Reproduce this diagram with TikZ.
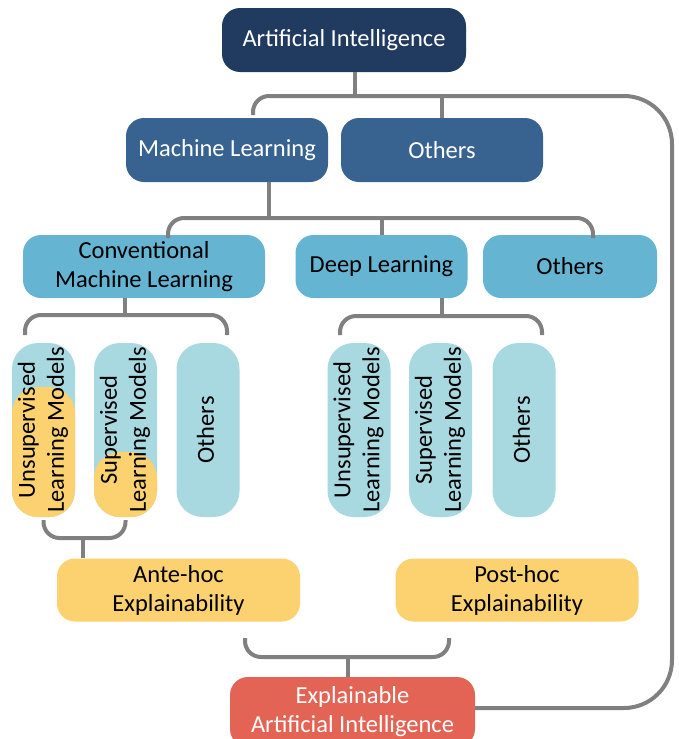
\documentclass[tikz,border=0pt]{standalone}
\usepackage{fontspec}
\setmainfont{Carlito}

\definecolor{aiblue}{RGB}{32,58,96}
\definecolor{mlblue}{RGB}{56,99,145}
\definecolor{subblue}{RGB}{100,180,210}
\definecolor{leafblue}{RGB}{168,217,225}
\definecolor{hocyellow}{RGB}{252,209,112}
\definecolor{xaired}{RGB}{227,100,84}
\definecolor{linkgray}{RGB}{128,128,128}

\tikzset{
  box/.style={rectangle,rounded corners=18,inner sep=2,align=center,
    font=\fontsize{24.5}{29}\selectfont},
  topbox/.style={box,fill=aiblue,text=white,minimum width=244,minimum height=64},
  mlbox/.style={box,fill=mlblue,text=white,minimum width=202,minimum height=64},
  subbox/.style={box,fill=subblue,minimum height=63},
  leaf/.style={box,fill=leafblue,rounded corners=26,minimum width=63,minimum height=174},
  % lower part of a leaf painted yellow, #1 = how far from the top it starts
  hocpart/.style={path picture={\fill[hocyellow,rounded corners=26]
    (path picture bounding box.south west) rectangle ([yshift=-#1]path picture bounding box.north east);}},
  hocbox/.style={box,fill=hocyellow,minimum width=243,minimum height=63},
  xaibox/.style={box,fill=xaired,text=white,minimum width=245,minimum height=70},
  link/.style={draw=linkgray,line width=4}
}
\newcommand{\uptext}[1]{\rotatebox{90}{\begin{tabular}{@{}c@{}}#1\end{tabular}}}

\begin{document}
\begin{tikzpicture}[x=1pt,y=-1pt]
  \useasboundingbox (0,0) rectangle (678,739);

  \node[topbox] (ai) at (344,40) {Artificial Intelligence};
  \node[mlbox] (ml) at (227,150) {Machine Learning};
  \node[mlbox] (oth1) at (442,150) {Others};
  \node[subbox,minimum width=242] (cml) at (144,266.5) {Conventional\\Machine Learning};
  \node[subbox,minimum width=172] (dl) at (381.5,266.5) {Deep Learning};
  \node[subbox,minimum width=174] (oth2) at (570,266.5) {Others};

  \node[leaf,hocpart=44] (u1) at (43.5,430) {\uptext{Unsupervised\\Learning Models}};
  \node[leaf,hocpart=109] (s1) at (125.5,430) {\uptext{Supervised\\Learning Models}};
  \node[leaf] (o1) at (208,430) {\uptext{Others}};
  \node[leaf] (u2) at (359,430) {\uptext{Unsupervised\\Learning Models}};
  \node[leaf] (s2) at (440.5,430) {\uptext{Supervised\\Learning Models}};
  \node[leaf] (o2) at (524,430) {\uptext{Others}};

  \node[hocbox] (ante) at (178.5,590) {Ante-hoc\\Explainability};
  \node[hocbox] (post) at (517,590) {Post-hoc\\Explainability};
  \node[xaibox] (xai) at (352.5,712) {Explainable\\Artificial Intelligence};

  % bracket hubs and free ends
  \coordinate (aiHub) at (355,96);   \coordinate (aiL) at (253,115);
  \coordinate (rail) at (672,400);
  \coordinate (mlHub) at (269,218);  \coordinate (mlL) at (168,238);  \coordinate (mlR) at (593,238);
  \coordinate (cmlHub) at (125,315); \coordinate (cmlL) at (25,335);  \coordinate (cmlR) at (227,335);
  \coordinate (dlHub) at (442,316);  \coordinate (dlL) at (340,335);  \coordinate (dlR) at (542,335);
  \coordinate (anteHub) at (83,538);
  \coordinate (xaiHub) at (348,657); \coordinate (xaiL) at (245,638); \coordinate (xaiR) at (449,638);

  \draw[link] (ai.south -| aiHub) -- (aiHub);
  \draw[link,rounded corners=16] (aiL) |- (aiHub);
  \draw[link] (oth1.north) -- (oth1.north |- aiHub);
  \draw[link,rounded corners=48] (aiHub) -| (rail) |- ([yshift=4pt]xai.east);

  \draw[link] (ml.south -| mlHub) -- (mlHub);
  \draw[link,rounded corners=16] (mlL) |- (mlHub) -| (mlR);
  \draw[link] (dl.north) -- (dl.north |- mlHub);

  \draw[link] (cml.south -| cmlHub) -- (cmlHub);
  \draw[link,rounded corners=16] (cmlL) |- (cmlHub) -| (cmlR);
  \draw[link] (dl.south -| dlHub) -- (dlHub);
  \draw[link,rounded corners=16] (dlL) |- (dlHub) -| (dlR);

  \draw[link,rounded corners=16] ([yshift=-3pt]u1.south) |- (anteHub) -| ([yshift=-3pt]s1.south);
  \draw[link] (anteHub) -- (ante.north -| anteHub);

  \draw[link,rounded corners=16] (xaiL) |- (xaiHub) -| (xaiR);
  \draw[link] (xaiHub) -- (xai.north -| xaiHub);
\end{tikzpicture}
\end{document}
